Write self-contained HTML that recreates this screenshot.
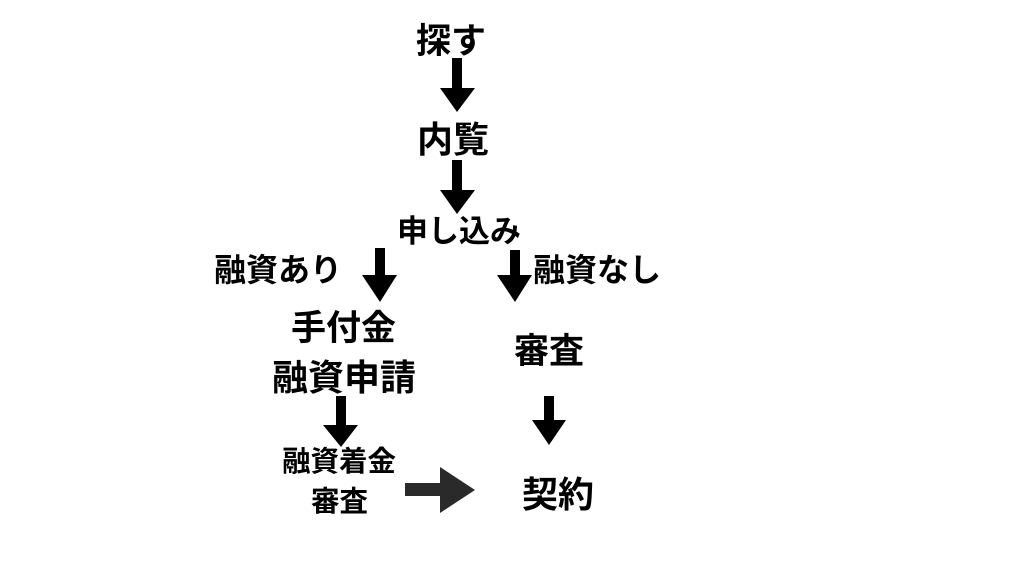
<!DOCTYPE html>
<html><head><meta charset="utf-8"><style>
html,body{margin:0;padding:0;background:#fff;}
body{width:1024px;height:576px;position:relative;overflow:hidden;font-family:"Liberation Sans","Noto Sans CJK JP",sans-serif;font-weight:bold;color:#000;}
.t{position:absolute;white-space:nowrap;line-height:1;text-align:center;}
svg{position:absolute;left:0;top:0;}
</style></head><body>
<svg width="1024" height="576">
<g fill="#000">
<rect x="452" y="58" width="10" height="32"/><polygon points="440,88 475,88 457,112"/>
<rect x="452" y="160" width="10" height="32"/><polygon points="440,190 475,190 457,214"/>
<rect x="375" y="248" width="10" height="29"/><polygon points="362,275 397,275 380,302"/>
<rect x="510" y="250" width="10" height="27"/><polygon points="497,275 532,275 515,302"/>
<rect x="336" y="396" width="10" height="31"/><polygon points="323,425 358,425 341,447"/>
<rect x="544" y="396" width="10" height="26"/><polygon points="532,420 566,420 549,445"/>
</g>
<g fill="#2a2a2a">
<rect x="405" y="483" width="40" height="13"/><polygon points="440,467 475,490 440,513"/>
</g>
</svg>
<div class="t" style="left:416px;top:24px;font-size:35px;">探す</div>
<div class="t" style="left:417px;top:122px;font-size:36px;">内覧</div>
<div class="t" style="left:397px;top:216px;font-size:31px;">申し込み</div>
<div class="t" style="left:214px;top:254px;font-size:32px;">融資あり</div>
<div class="t" style="left:533px;top:254px;font-size:32px;">融資なし</div>
<div class="t" style="left:291px;top:311px;font-size:35px;">手付金</div>
<div class="t" style="left:272px;top:360px;font-size:36px;">融資申請</div>
<div class="t" style="left:514px;top:334px;font-size:35px;">審査</div>
<div class="t" style="left:282px;top:448px;font-size:28.5px;">融資着金</div>
<div class="t" style="left:311px;top:488px;font-size:28.5px;">審査</div>
<div class="t" style="left:522px;top:477px;font-size:36px;">契約</div>
</body></html>
